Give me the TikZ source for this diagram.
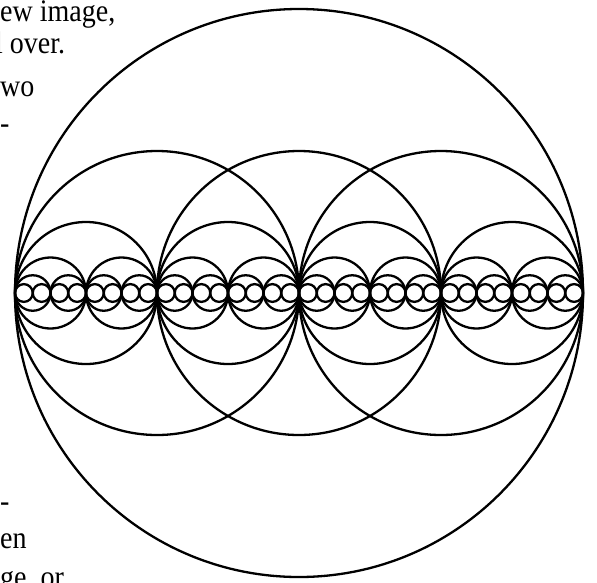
\documentclass[tikz,border=0pt]{standalone}
\usepackage{fontspec}
\setmainfont{Liberation Serif}
\usepackage{tikz}

\newcommand{\tallbit}[1]{\scalebox{1}[1.12]{#1}}

\begin{document}
\begin{tikzpicture}[
  x=1pt, y=-1pt,
  ring/.style={draw, line width=2.3pt},
  cut/.style={font=\fontsize{28}{32}\selectfont, anchor=base west, inner sep=0pt}
]
\useasboundingbox (0,0) rectangle (597,582);

% text of the page, cut off at the left
\node[cut] (t1) at (0,21) {\tallbit{ew image,}};
\node[cut] (t2) at (-5,53) {\tallbit{l over.}};
\node[cut] (t3) at (0,96) {\tallbit{wo}};
\node[cut] (t4) at (0,133) {\tallbit{-}};
\node[cut] (t5) at (0,511) {\tallbit{-}};
\node[cut] (t6) at (0,548) {\tallbit{en}};
\node[cut] (t7) at (0,587) {\tallbit{ge, or}};

% outer circle and the three overlapping halves
\draw[ring] (299,293) circle[radius=284pt];
\foreach \j in {1,2,3}
  \draw[ring] (15+\j*142, 293) circle[radius=142pt];

% below that, each circle holds two halves side by side
\foreach \k in {2,...,5} {
  \pgfmathsetmacro\rad{284/2^\k}
  \pgfmathtruncatemacro\num{2^\k}
  \foreach \j in {1,...,\num} {
    \pgfmathsetmacro\cx{15+(2*\j-1)*\rad}
    \draw[ring] (\cx, 293) circle[radius=\rad pt];
  }
}

\end{tikzpicture}
\end{document}
